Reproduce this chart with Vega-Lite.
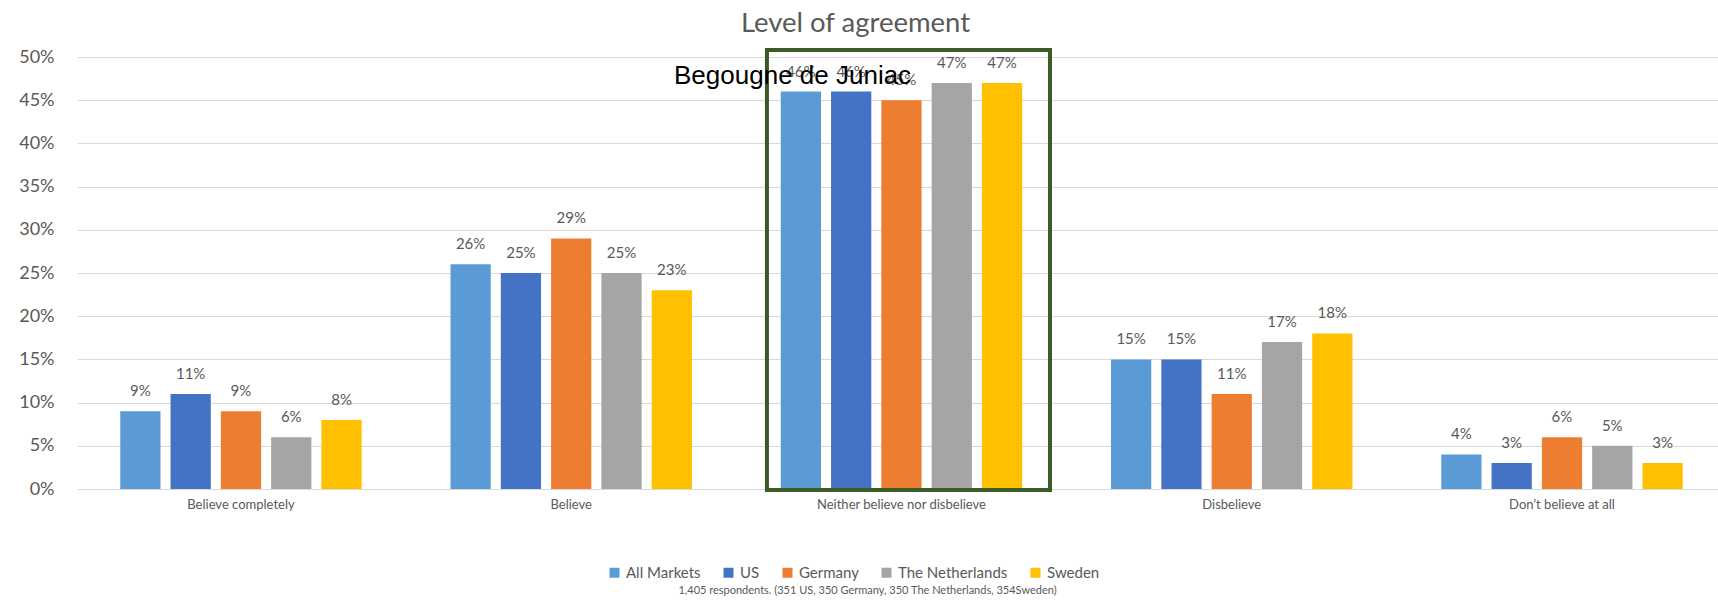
{
  "$schema": "https://vega.github.io/schema/vega-lite/v6.json",
  "width": 1641,
  "height": 432,
  "autosize": {"type": "none"},
  "padding": {"left": 77, "top": 57, "right": 0, "bottom": 115},
  "background": "white",
  "title": {"text": "Level of agreement", "font": "Lato", "fontSize": 27.5, "fontWeight": "normal", "color": "#595959", "anchor": "middle", "dx": -42, "offset": 11},
  "data": {"values": [
    {"category": "Believe completely", "market": "All Markets", "value": 0.09},
    {"category": "Believe completely", "market": "US", "value": 0.11},
    {"category": "Believe completely", "market": "Germany", "value": 0.09},
    {"category": "Believe completely", "market": "The Netherlands", "value": 0.06},
    {"category": "Believe completely", "market": "Sweden", "value": 0.08},
    {"category": "Believe", "market": "All Markets", "value": 0.26},
    {"category": "Believe", "market": "US", "value": 0.25},
    {"category": "Believe", "market": "Germany", "value": 0.29},
    {"category": "Believe", "market": "The Netherlands", "value": 0.25},
    {"category": "Believe", "market": "Sweden", "value": 0.23},
    {"category": "Neither believe nor disbelieve", "market": "All Markets", "value": 0.46},
    {"category": "Neither believe nor disbelieve", "market": "US", "value": 0.46},
    {"category": "Neither believe nor disbelieve", "market": "Germany", "value": 0.45},
    {"category": "Neither believe nor disbelieve", "market": "The Netherlands", "value": 0.47},
    {"category": "Neither believe nor disbelieve", "market": "Sweden", "value": 0.47},
    {"category": "Disbelieve", "market": "All Markets", "value": 0.15},
    {"category": "Disbelieve", "market": "US", "value": 0.15},
    {"category": "Disbelieve", "market": "Germany", "value": 0.11},
    {"category": "Disbelieve", "market": "The Netherlands", "value": 0.17},
    {"category": "Disbelieve", "market": "Sweden", "value": 0.18},
    {"category": "Don’t believe at all", "market": "All Markets", "value": 0.04},
    {"category": "Don’t believe at all", "market": "US", "value": 0.03},
    {"category": "Don’t believe at all", "market": "Germany", "value": 0.06},
    {"category": "Don’t believe at all", "market": "The Netherlands", "value": 0.05},
    {"category": "Don’t believe at all", "market": "Sweden", "value": 0.03}
  ]},
  "layer": [
    {
      "mark": {"type": "bar"},
      "encoding": {
        "x": {"field": "category", "type": "nominal", "sort": null,
          "scale": {"domain": ["Believe completely", "Believe", "Neither believe nor disbelieve", "Disbelieve", "Don’t believe at all"], "paddingInner": 0.2385, "paddingOuter": 0.1037, "align": 0.558},
          "axis": {"domain": false, "ticks": false, "labelAngle": 0, "labelFont": "Lato", "labelFontSize": 13, "labelColor": "#595959", "labelPadding": 9,
            "title": "1,405 respondents. (351 US, 350 Germany, 350 The Netherlands, 354Sweden)", "titleFont": "Lato", "titleFontSize": 11, "titleFontWeight": "normal", "titleColor": "#595959", "titleX": 790, "titleY": 104, "titleAlign": "center", "titleBaseline": "alphabetic"}},
        "xOffset": {"field": "market", "type": "nominal", "sort": null,
          "scale": {"domain": ["All Markets", "US", "Germany", "The Netherlands", "Sweden"], "paddingInner": 0.2, "paddingOuter": 0.1}},
        "y": {"field": "value", "type": "quantitative",
          "scale": {"domain": [0, 0.5], "nice": false},
          "axis": {"title": null, "format": ".0%", "values": [0, 0.05, 0.1, 0.15, 0.2, 0.25, 0.3, 0.35, 0.4, 0.45, 0.5], "grid": true, "gridColor": "#d9d9d9", "gridWidth": 1, "domain": false, "ticks": false, "labelFont": "Lato", "labelFontSize": 18, "labelColor": "#595959", "labelPadding": 23}},
        "color": {"field": "market", "type": "nominal", "sort": null,
          "scale": {"domain": ["All Markets", "US", "Germany", "The Netherlands", "Sweden"], "range": ["#5B9BD5", "#4472C4", "#ED7D31", "#A5A5A5", "#FFC000"]},
          "legend": {"orient": "none", "legendX": 530, "legendY": 508, "direction": "horizontal", "columns": 5, "title": null, "symbolType": "square", "symbolSize": 100, "symbolStrokeWidth": 0, "labelFont": "Lato", "labelFontSize": 15, "labelColor": "#595959", "columnPadding": 20, "labelOffset": 4}}
      }
    },
    {
      "mark": {"type": "text", "font": "Lato", "fontSize": 15, "color": "#595959", "baseline": "alphabetic", "dy": -15},
      "encoding": {
        "x": {"field": "category", "type": "nominal", "sort": null},
        "xOffset": {"field": "market", "type": "nominal", "sort": null},
        "y": {"field": "value", "type": "quantitative"},
        "text": {"field": "value", "type": "quantitative", "format": ".0%"}
      }
    },
    {
      "data": {"values": [{"category": "Neither believe nor disbelieve"}]},
      "mark": {"type": "rect", "fillOpacity": 0, "stroke": "#3B5A27", "strokeWidth": 4},
      "encoding": {
        "x": {"field": "category", "type": "nominal", "sort": null, "bandPosition": -0.035},
        "x2": {"field": "category", "bandPosition": 1.0905},
        "y": {"datum": 0.5081, "type": "quantitative"},
        "y2": {"datum": -0.00116}
      }
    },
    {
      "data": {"values": [{"category": "Neither believe nor disbelieve", "label": "Begougne de Juniac"}]},
      "mark": {"type": "text", "font": "Liberation Sans", "fontSize": 26, "color": "black", "align": "center", "baseline": "alphabetic"},
      "encoding": {
        "x": {"field": "category", "type": "nominal", "sort": null, "bandPosition": 0.067},
        "y": {"datum": 0.469, "type": "quantitative"},
        "text": {"field": "label", "type": "nominal"}
      }
    }
  ],
  "config": {"view": {"stroke": null}, "font": "Lato"}
}
